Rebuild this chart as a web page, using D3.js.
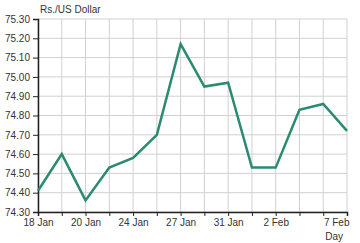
<!DOCTYPE html>
<html>
<head>
<meta charset="utf-8">
<script src="https://cdn.jsdelivr.net/npm/d3@7"></script>
<style>
  body { margin: 0; background: #fff; }
  text { font-family: "Liberation Sans", Arial, sans-serif; }
</style>
</head>
<body>
<div id="chart"></div>
<script>
var days = ["18 Jan", "19 Jan", "20 Jan", "21 Jan", "24 Jan", "25 Jan", "27 Jan",
  "28 Jan", "31 Jan", "1 Feb", "2 Feb", "3 Feb", "4 Feb", "7 Feb"];
var rates = [74.41, 74.60, 74.36, 74.53, 74.58, 74.70, 75.17,
  74.95, 74.97, 74.53, 74.53, 74.83, 74.86, 74.72];
var labelledDays = ["18 Jan", "20 Jan", "24 Jan", "27 Jan", "31 Jan", "2 Feb", "7 Feb"];
var yTicks = [74.30, 74.40, 74.50, 74.60, 74.70, 74.80, 74.90, 75.00, 75.10, 75.20, 75.30];

var svgWidth = 360;
var svgHeight = 243;
var margin = { top: 19, right: 13, bottom: 31, left: 38 };
var width = svgWidth - margin.left - margin.right;
var height = svgHeight - margin.top - margin.bottom;

var svg = d3.select("#chart")
  .append("svg")
  .attr("width", svgWidth)
  .attr("height", svgHeight);

var chartGroup = svg.append("g")
  .attr("transform", `translate(${margin.left}, ${margin.top})`);

var xScale = d3.scalePoint()
  .domain(days)
  .range([0, width]);

var yScale = d3.scaleLinear()
  .domain([74.30, 75.30])
  .range([height, 0]);

// grid
chartGroup.append("g")
  .selectAll("line.v")
  .data(days)
  .enter()
  .append("line")
  .attr("x1", d => xScale(d))
  .attr("x2", d => xScale(d))
  .attr("y1", 0)
  .attr("y2", height)
  .attr("stroke", "#d0d0d0")
  .attr("stroke-width", 1);

chartGroup.append("g")
  .selectAll("line.h")
  .data(yTicks)
  .enter()
  .append("line")
  .attr("x1", 0)
  .attr("x2", width)
  .attr("y1", d => yScale(d))
  .attr("y2", d => yScale(d))
  .attr("stroke", "#d0d0d0")
  .attr("stroke-width", 1);

// axes
var bottomAxis = d3.axisBottom(xScale)
  .tickSize(4)
  .tickPadding(3)
  .tickFormat(d => labelledDays.includes(d) ? d : "");

var leftAxis = d3.axisLeft(yScale)
  .tickValues(yTicks)
  .tickSize(5)
  .tickPadding(3)
  .tickFormat(d3.format(".2f"));

var xAxis = chartGroup.append("g")
  .attr("transform", `translate(0, ${height})`)
  .call(bottomAxis);

var yAxis = chartGroup.append("g")
  .call(leftAxis);

[xAxis, yAxis].forEach(function (ax) {
  ax.select(".domain").attr("stroke", "#222").attr("stroke-width", 1.5);
  ax.selectAll(".tick line").attr("stroke", "#222");
  ax.selectAll(".tick text")
    .attr("fill", "#333")
    .attr("font-size", 10)
    .attr("font-family", "Liberation Sans, Arial, sans-serif");
});

xAxis.selectAll(".tick text")
  .attr("text-anchor", (d, i) => i === days.length - 1 ? "end" : "middle")
  .attr("dx", (d, i) => i === days.length - 1 ? 2 : 0);

// line
var line = d3.line()
  .x((d, i) => xScale(days[i]))
  .y(d => yScale(d));

chartGroup.append("path")
  .datum(rates)
  .attr("d", line)
  .attr("fill", "none")
  .attr("stroke", "#2b8a72")
  .attr("stroke-width", 2.5)
  .attr("stroke-linejoin", "miter");

// axis titles
chartGroup.append("text")
  .attr("x", 2)
  .attr("y", -6)
  .attr("fill", "#333")
  .attr("font-size", 10)
  .text("Rs./US Dollar");

chartGroup.append("text")
  .attr("x", width - 4)
  .attr("y", height + 28)
  .attr("text-anchor", "end")
  .attr("fill", "#333")
  .attr("font-size", 10)
  .text("Day");
</script>
</body>
</html>
